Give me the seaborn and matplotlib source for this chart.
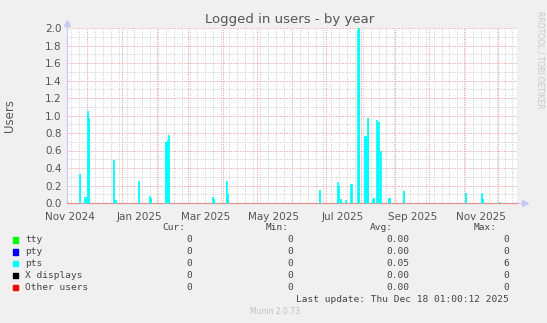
import numpy as np
import pandas as pd
import matplotlib
matplotlib.use("Agg")
import matplotlib.pyplot as plt
import matplotlib.dates as mdates
from matplotlib.patches import Rectangle
import seaborn as sns

# ---------------- data ----------------
series_names = ["tty", "pty", "pts", "X displays", "Other users"]
series_colors = ["#00FF00", "#0000FF", "#00FFFF", "#000000", "#FF0000"]
cur_vals = ["0", "0", "0", "0", "0"]
min_vals = ["0", "0", "0", "0", "0"]
avg_vals = ["0.00", "0.00", "0.05", "0.00", "0.00"]
max_vals = ["0", "0", "6", "0", "0"]

# daily averages of pts (non-zero days)
pts_dates = [
    "2024-11-24", "2024-11-28", "2024-11-29", "2024-11-30", "2024-12-01", "2024-12-02",
    "2024-12-24", "2024-12-25", "2024-12-26",
    "2025-01-15", "2025-01-25", "2025-01-26",
    "2025-02-08", "2025-02-09", "2025-02-10", "2025-02-11",
    "2025-03-22", "2025-03-23", "2025-04-03", "2025-04-04",
    "2025-06-25", "2025-07-11", "2025-07-12", "2025-07-14", "2025-07-18", "2025-07-23",
    "2025-07-29", "2025-07-30",
    "2025-08-04", "2025-08-05", "2025-08-06", "2025-08-07",
    "2025-08-11", "2025-08-12", "2025-08-15", "2025-08-16", "2025-08-18",
    "2025-08-25", "2025-08-26", "2025-09-08",
    "2025-11-02", "2025-11-16", "2025-11-17", "2025-12-02",
]
pts_values = [
    0.33, 0.07, 0.04, 0.07, 1.05, 0.97,
    0.49, 0.04, 0.03,
    0.25, 0.08, 0.06,
    0.70, 0.70, 0.72, 0.78,
    0.065, 0.05, 0.25, 0.10,
    0.15, 0.24, 0.20, 0.05, 0.03, 0.22,
    1.98, 2.0,
    0.77, 0.77, 0.74, 0.97,
    0.05, 0.06, 0.95, 0.93, 0.60,
    0.06, 0.06, 0.14,
    0.12, 0.11, 0.05, 0.015,
]

y_ticks = [0.0, 0.2, 0.4, 0.6, 0.8, 1.0, 1.2, 1.4, 1.6, 1.8, 2.0]
x_label_dates = ["2024-11-16", "2025-01-16", "2025-03-16", "2025-05-16",
                 "2025-07-16", "2025-09-16", "2025-11-16"]
x_labels = ["Nov 2024", "Jan 2025", "Mar 2025", "May 2025",
            "Jul 2025", "Sep 2025", "Nov 2025"]

title = "Logged in users - by year"
last_update = "Last update: Thu Dec 18 01:00:12 2025"
end_time = pd.Timestamp("2025-12-18 01:00:12")
start_time = end_time - pd.Timedelta(days=400)

# ---------------- build table ----------------
days = pd.date_range(start_time.normalize(), end_time.normalize() + pd.Timedelta(days=1), freq="D")
pts = pd.Series(0.0, index=days)
pts.loc[pd.to_datetime(pts_dates)] = pts_values
df = pd.DataFrame({"date": days, "pts": pts.values})

# ---------------- figure ----------------
sns.set_style("white")
plt.rcParams["font.family"] = ["DejaVu Sans"]

W, H = 547, 323
fig = plt.figure(figsize=(W / 100, H / 100), dpi=100, facecolor="#F0F0F0")
ax = fig.add_axes([67 / W, 1 - 203 / H, (517 - 67) / W, (203 - 28) / H])
ax.set_facecolor("#FFFFFF")

ax.fill_between(df["date"], 0, df["pts"], step="post", color="#00FFFF", linewidth=0, zorder=3)
sns.lineplot(data=df, x="date", y="pts", drawstyle="steps-post", color="#00FFFF",
             linewidth=0.6, ax=ax, zorder=3)

ax.set_xlim(start_time, end_time)
ax.set_ylim(0, 2.0)

# grid
major_c = "#F4A8A8"
minor_c = "#D4D4D4"
ax.xaxis.set_major_locator(mdates.MonthLocator())
ax.xaxis.set_minor_locator(mdates.WeekdayLocator(byweekday=mdates.SU))
ax.set_yticks(y_ticks)
ax.set_yticks(np.arange(0.1, 2.0, 0.2), minor=True)
ax.grid(True, which="major", color=major_c, linestyle=(0, (1.2, 1.2)), linewidth=0.7, zorder=1)
ax.grid(True, which="minor", color=minor_c, linestyle=(0, (1.2, 1.2)), linewidth=0.7, zorder=1)
ax.set_axisbelow(True)
ax.tick_params(axis="x", which="both", length=0, labelbottom=False)
ax.tick_params(axis="y", which="major", length=3, color=major_c, labelsize=7.5,
               labelcolor="#555555", pad=1)
ax.tick_params(axis="y", which="minor", length=2, color=minor_c)
ax.set_yticklabels([f"{v:.1f}" for v in y_ticks])

for d, lab in zip(x_label_dates, x_labels):
    ax.text(pd.Timestamp(d), -0.05, lab, ha="center", va="top", fontsize=7.5,
            color="#555555", transform=ax.get_xaxis_transform(), clip_on=False)

for s in ["top", "right"]:
    ax.spines[s].set_visible(False)
ax.spines["left"].set_color("#C8C8F4")
ax.spines["left"].set_linewidth(0.8)
ax.spines["bottom"].set_color("#E89090")
ax.spines["bottom"].set_linewidth(0.9)

# axis arrows
ax.plot([0, 0], [1.0, 1.03], transform=ax.transAxes, color="#C8C8F4", lw=0.8, clip_on=False)
ax.plot([0], [1.03], marker="^", markersize=4, color="#C8C8F4", transform=ax.transAxes, clip_on=False)
ax.plot([1.0, 1.015], [0, 0], transform=ax.transAxes, color="#C8C8F4", lw=0.8, clip_on=False)
ax.plot([1.017], [0], marker=">", markersize=4, color="#C8C8F4", transform=ax.transAxes, clip_on=False)

ax.set_xlabel("")
ax.set_ylabel("")

# titles
fig.text(290 / W, 1 - 19 / H, title, ha="center", va="center", fontsize=9.5, color="#555555")
fig.text(10 / W, 1 - 115 / H, "Users", ha="center", va="center", rotation=90,
         fontsize=8.5, color="#555555")
fig.text(540 / W, 1 - 60 / H, "RRDTOOL / TOBI OETIKER", ha="center", va="center",
         rotation=270, fontsize=5.5, color="#C8C8C8")

# legend table
mono = "DejaVu Sans Mono"
fs = 6.8
tc = "#444444"
hdr_y = 227.5
for lab, xr in zip(["Cur:", "Min:", "Avg:", "Max:"], [185, 289, 393, 497]):
    fig.text(xr / W, 1 - hdr_y / H, lab, ha="right", va="center", family=mono, fontsize=fs, color=tc)
row_y = [240, 252, 263.5, 275.7, 287.7]
for i, name in enumerate(series_names):
    y = row_y[i]
    fig.add_artist(Rectangle((13 / W, 1 - (y + 2.7) / H), 5.3 / W, 5.3 / H,
                             transform=fig.transFigure, color=series_colors[i]))
    fig.text(25 / W, 1 - y / H, name, ha="left", va="center", family=mono, fontsize=fs, color=tc)
    for val, xr in zip([cur_vals[i], min_vals[i], avg_vals[i], max_vals[i]], [192, 293, 409, 509]):
        fig.text(xr / W, 1 - y / H, val, ha="right", va="center", family=mono, fontsize=fs, color=tc)
fig.text(509 / W, 1 - 299.5 / H, last_update, ha="right", va="center", family=mono,
         fontsize=fs, color=tc)
fig.text(275 / W, 1 - 311.5 / H, "Munin 2.0.73", ha="center", va="center", fontsize=5.5,
         color="#C0C0C0")

fig.savefig("out.png", dpi=100, facecolor=fig.get_facecolor())
